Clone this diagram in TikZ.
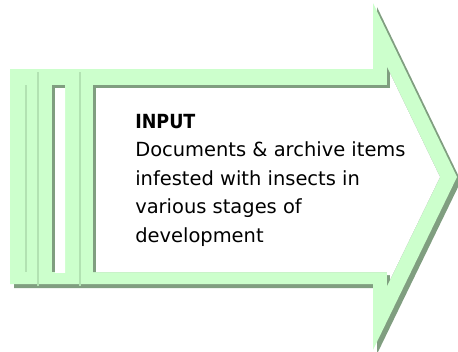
\documentclass[tikz,border=0pt]{standalone}
\usepackage{fontspec}
\setmainfont{DejaVu Sans}
\newfontfamily\condfont{DejaVu Sans Condensed}
\definecolor{bandgreen}{RGB}{204,255,204}
\definecolor{shadowgreen}{RGB}{128,158,128}
\definecolor{seamgreen}{RGB}{178,226,178}
\tikzset{
  outershape/.style={insert path={(10,69) -- (373,69) -- (373,3) -- (457,177) -- (373,350) -- (373,284) -- (10,284) -- cycle}},
  mainhole/.style={insert path={(93,85) -- (387,85) -- (387,67) -- (440,177) -- (387,286) -- (387,272) -- (93,272) -- cycle}},
  stripehole/.style={insert path={(52,85) -- (65,85) -- (65,272) -- (52,272) -- cycle}},
  seam/.style={draw=seamgreen, line width=0.8pt},
  bodytext/.style={anchor=north west, align=left, inner sep=0pt, text=black,
    font=\fontsize{14.6pt}{21.3pt}\selectfont}
}
\begin{document}
\begin{tikzpicture}[x=0.75pt, y=-0.75pt]
\useasboundingbox (0,0) rectangle (458,351);
% drop shadow of the arrow
\fill[shadowgreen, shift={(4,4)}, outershape];
% arrow band
\fill[bandgreen, outershape];
% faint seams of the stripes
\coordinate (s1a) at (26,85);  \coordinate (s1b) at (26,272);
\coordinate (s2a) at (38,72);  \coordinate (s2b) at (38,286);
\coordinate (s3a) at (80,72);  \coordinate (s3b) at (80,286);
\draw[seam] (s1a) -- (s1b);
\draw[seam] (s2a) -- (s2b);
\draw[seam] (s3a) -- (s3b);
% holes with inner shadow
\fill[shadowgreen, mainhole];
\fill[shadowgreen, stripehole];
\begin{scope}
  \clip[mainhole];
  \fill[white, shift={(3,3)}, mainhole];
\end{scope}
\begin{scope}
  \clip[stripehole];
  \fill[white, shift={(3,3)}, stripehole];
\end{scope}
% text
\node[bodytext] (input) at (135,114) {{\condfont\bfseries INPUT}\\Documents \& archive items\\infested with insects in\\various stages of\\development};
\end{tikzpicture}
\end{document}
